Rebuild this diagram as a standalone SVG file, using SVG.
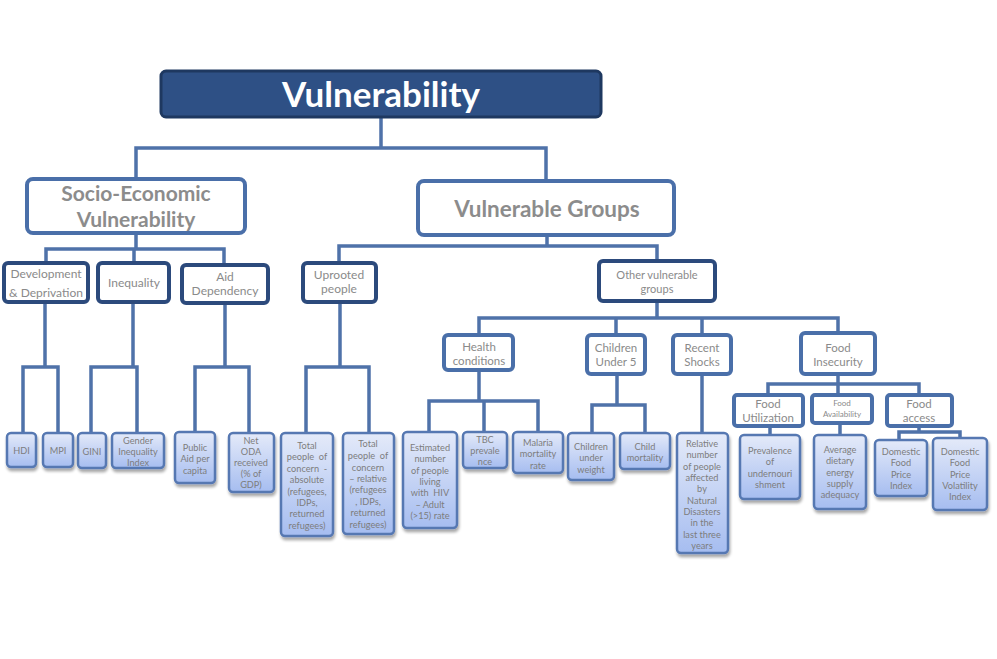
<svg xmlns="http://www.w3.org/2000/svg" width="997" height="659" viewBox="0 0 997 659">
<defs>
<linearGradient id="leafg" x1="0" y1="0" x2="0" y2="1">
<stop offset="0" stop-color="#e4eaf9"/>
<stop offset="1" stop-color="#a6bdf0"/>
</linearGradient>
<filter id="sh" x="-20%" y="-20%" width="140%" height="140%">
<feGaussianBlur in="SourceAlpha" stdDeviation="1.5"/>
<feOffset dx="1" dy="2.5" result="b"/>
<feComponentTransfer><feFuncA type="linear" slope="0.35"/></feComponentTransfer>
<feMerge><feMergeNode/><feMergeNode in="SourceGraphic"/></feMerge>
</filter>
</defs>
<style>
.con{fill:none;stroke:#4f72a9;stroke-width:3.5;stroke-linejoin:miter}
.title{fill:#2e5085;stroke:#1e3860;stroke-width:3}
.l1{fill:#fff;stroke:#4a6fa9;stroke-width:4}
.l2{fill:#fff;stroke:#2c4a7c;stroke-width:4}
.l3{fill:#fff;stroke:#4a6fa9;stroke-width:4}
.leaf{fill:url(#leafg);stroke:#5678b2;stroke-width:2.5;filter:url(#sh)}
text{font-family:Lato,"Liberation Sans",sans-serif;text-anchor:middle;dominant-baseline:central;fill:#8a8a8a}
.tt{fill:#fff;font-weight:bold;font-size:35px}
.t1{font-weight:bold;font-size:21px;fill:#8c8c8c}
.t2{font-size:12px}
.t3{font-size:11.5px}
.t4{font-size:9.2px;fill:#7d7d7d}
.ts{font-size:8px}
</style>
<g id="connectors">
<path class="con" d="M381 117V148M136 180V148H546V181"/>
<path class="con" d="M136 233V249M46 263V249H224V265M134 249V263"/>
<path class="con" d="M547 235V246M339 262V246H657V261"/>
<path class="con" d="M657 301V318M479 335V318H838V333M616 318V335M702 318V335"/>
<path class="con" d="M45 302V367M23 433V367H58V433"/>
<path class="con" d="M133 302V367M91 433V367H137V433"/>
<path class="con" d="M225 303V367M195 432V367H249V433"/>
<path class="con" d="M340 302V367M306 433V367H369V433"/>
<path class="con" d="M479 370V401M429 432V401H538V432M484 401V432"/>
<path class="con" d="M617 374V405M592 433V405H645V433"/>
<path class="con" d="M702 374V433"/>
<path class="con" d="M838 374V384M768 395V384H919V395M838 384V395"/>
<path class="con" d="M770 426V435M840 423V435"/>
<path class="con" d="M919 426V432M899 440V432H960V438"/>
</g>
<g id="n-vulnerability"><rect class="title" x="161" y="71" width="440" height="46" rx="5"/><text class="tt" x="381" y="93">Vulnerability</text></g>
<g id="n-socio"><rect class="l1" x="27" y="179" width="218" height="54" rx="6"/><text class="t1" x="136" y="192">Socio-Economic</text><text class="t1" x="136" y="218">Vulnerability</text></g>
<g id="n-groups"><rect class="l1" x="418" y="181" width="256" height="54" rx="6"/><text class="t1" x="547" y="208" style="font-size:22.5px">Vulnerable Groups</text></g>
<g id="n-dev"><rect class="l2" x="4" y="263" width="84" height="39" rx="4"/><text class="t2" x="46" y="273">Development</text><text class="t2" x="46" y="292">&amp; Deprivation</text></g>
<g id="n-ineq"><rect class="l2" x="98" y="263" width="71" height="39" rx="4"/><text class="t2" x="134" y="282">Inequality</text></g>
<g id="n-aid"><rect class="l2" x="182" y="265" width="86" height="38" rx="4"/><text class="t2" x="225" y="276">Aid</text><text class="t2" x="225" y="290">Dependency</text></g>
<g id="n-uprooted"><rect class="l2" x="303" y="263" width="73" height="39" rx="4"/><text class="t2" x="339" y="274">Uprooted</text><text class="t2" x="339" y="288">people</text></g>
<g id="n-other"><rect class="l2" x="599" y="261" width="116" height="40" rx="4"/><text class="t2" x="657" y="274" style="font-size:11px">Other vulnerable</text><text class="t2" x="657" y="288" style="font-size:11px">groups</text></g>
<g id="n-health"><rect class="l3" x="444" y="335" width="69" height="35" rx="4"/><text class="t3" x="479" y="346">Health</text><text class="t3" x="479" y="360">conditions</text></g>
<g id="n-children"><rect class="l3" x="587" y="335" width="58" height="39" rx="4"/><text class="t3" x="616" y="347">Children</text><text class="t3" x="616" y="361">Under 5</text></g>
<g id="n-recent"><rect class="l3" x="673" y="335" width="58" height="39" rx="4"/><text class="t3" x="702" y="347">Recent</text><text class="t3" x="702" y="361">Shocks</text></g>
<g id="n-foodins"><rect class="l3" x="801" y="333" width="74" height="41" rx="4"/><text class="t3" x="838" y="347">Food</text><text class="t3" x="838" y="361">Insecurity</text></g>
<g id="n-foodutil"><rect class="l3" x="734" y="395" width="69" height="31" rx="3"/><text class="t3" x="768" y="403">Food</text><text class="t3" x="768" y="417">Utilization</text></g>
<g id="n-foodavail"><rect class="l3" x="812" y="395" width="60" height="28" rx="3"/><text class="ts" x="842" y="403">Food</text><text class="ts" x="842" y="414">Availability</text></g>
<g id="n-foodaccess"><rect class="l3" x="887" y="395" width="65" height="31" rx="3"/><text class="t3" x="919" y="403">Food</text><text class="t3" x="919" y="417">access</text></g>
<g id="n-hdi"><rect class="leaf" x="7" y="433" width="29" height="34" rx="4"/><text class="t4" x="21.5" y="450">HDI</text></g>
<g id="n-mpi"><rect class="leaf" x="43" y="433" width="30" height="34" rx="4"/><text class="t4" x="58" y="450">MPI</text></g>
<g id="n-gini"><rect class="leaf" x="78" y="433" width="28" height="35" rx="4"/><text class="t4" x="92" y="451">GINI</text></g>
<g id="n-gender"><rect class="leaf" x="112" y="433" width="52" height="35" rx="4"/><text class="t4" x="138" y="440">Gender</text><text class="t4" x="138" y="451">Inequality</text><text class="t4" x="138" y="462">Index</text></g>
<g id="n-publicaid"><rect class="leaf" x="175" y="432" width="40" height="51" rx="4"/><text class="t4" x="195" y="447">Public</text><text class="t4" x="195" y="458">Aid per</text><text class="t4" x="195" y="470">capita</text></g>
<g id="n-netoda"><rect class="leaf" x="229" y="433" width="45" height="59" rx="4"/><text class="t4" x="251" y="440">Net</text><text class="t4" x="251" y="451">ODA</text><text class="t4" x="251" y="462">received</text><text class="t4" x="251" y="473">(% of</text><text class="t4" x="251" y="484">GDP)</text></g>
<g id="n-totalabs"><rect class="leaf" x="281" y="433" width="52" height="103" rx="4"/><text class="t4" x="307" y="445">Total</text><text class="t4" x="307" y="456" xml:space="preserve">people  of</text><text class="t4" x="307" y="468" xml:space="preserve">concern  -</text><text class="t4" x="307" y="479">absolute</text><text class="t4" x="307" y="491">(refugees,</text><text class="t4" x="307" y="502">IDPs,</text><text class="t4" x="307" y="513">returned</text><text class="t4" x="307" y="525">refugees)</text></g>
<g id="n-totalrel"><rect class="leaf" x="343" y="433" width="51" height="101" rx="4"/><text class="t4" x="368" y="443">Total</text><text class="t4" x="368" y="455" xml:space="preserve">people  of</text><text class="t4" x="368" y="467">concern</text><text class="t4" x="368" y="478">– relative</text><text class="t4" x="368" y="489">(refugees</text><text class="t4" x="368" y="501">, IDPs,</text><text class="t4" x="368" y="512">returned</text><text class="t4" x="368" y="524">refugees)</text></g>
<g id="n-hiv"><rect class="leaf" x="403" y="432" width="54" height="96" rx="4"/><text class="t4" x="430" y="447">Estimated</text><text class="t4" x="430" y="458">number</text><text class="t4" x="430" y="470">of people</text><text class="t4" x="430" y="481">living</text><text class="t4" x="430" y="492" xml:space="preserve">with  HIV</text><text class="t4" x="430" y="504">– Adult</text><text class="t4" x="430" y="515">(&gt;15) rate</text></g>
<g id="n-tbc"><rect class="leaf" x="463" y="432" width="44" height="36" rx="4"/><text class="t4" x="485" y="439">TBC</text><text class="t4" x="485" y="450">prevale</text><text class="t4" x="485" y="461">nce</text></g>
<g id="n-malaria"><rect class="leaf" x="513" y="432" width="50" height="41" rx="4"/><text class="t4" x="538" y="442">Malaria</text><text class="t4" x="538" y="453">mortality</text><text class="t4" x="538" y="465">rate</text></g>
<g id="n-underweight"><rect class="leaf" x="568" y="433" width="46" height="47" rx="4"/><text class="t4" x="591" y="446">Children</text><text class="t4" x="591" y="457">under</text><text class="t4" x="591" y="469">weight</text></g>
<g id="n-childmort"><rect class="leaf" x="620" y="433" width="50" height="36" rx="4"/><text class="t4" x="645" y="446">Child</text><text class="t4" x="645" y="457">mortality</text></g>
<g id="n-disasters"><rect class="leaf" x="677" y="433" width="51" height="120" rx="4"/><text class="t4" x="702" y="443">Relative</text><text class="t4" x="702" y="454">number</text><text class="t4" x="702" y="466">of people</text><text class="t4" x="702" y="477">affected</text><text class="t4" x="702" y="488">by</text><text class="t4" x="702" y="500">Natural</text><text class="t4" x="702" y="511">Disasters</text><text class="t4" x="702" y="522">in the</text><text class="t4" x="702" y="534">last three</text><text class="t4" x="702" y="545">years</text></g>
<g id="n-prevalence"><rect class="leaf" x="740" y="435" width="60" height="64" rx="4"/><text class="t4" x="770" y="450">Prevalence</text><text class="t4" x="770" y="461">of</text><text class="t4" x="770" y="473">undernouri</text><text class="t4" x="770" y="484">shment</text></g>
<g id="n-dietary"><rect class="leaf" x="814" y="435" width="52" height="74" rx="4"/><text class="t4" x="840" y="449">Average</text><text class="t4" x="840" y="460">dietary</text><text class="t4" x="840" y="472">energy</text><text class="t4" x="840" y="483">supply</text><text class="t4" x="840" y="494">adequacy</text></g>
<g id="n-dfpi"><rect class="leaf" x="875" y="440" width="52" height="56" rx="4"/><text class="t4" x="901" y="451">Domestic</text><text class="t4" x="901" y="462">Food</text><text class="t4" x="901" y="474">Price</text><text class="t4" x="901" y="485">Index</text></g>
<g id="n-dfpv"><rect class="leaf" x="933" y="438" width="54" height="72" rx="4"/><text class="t4" x="960" y="451">Domestic</text><text class="t4" x="960" y="462">Food</text><text class="t4" x="960" y="474">Price</text><text class="t4" x="960" y="485">Volatility</text><text class="t4" x="960" y="496">Index</text></g>
</svg>
